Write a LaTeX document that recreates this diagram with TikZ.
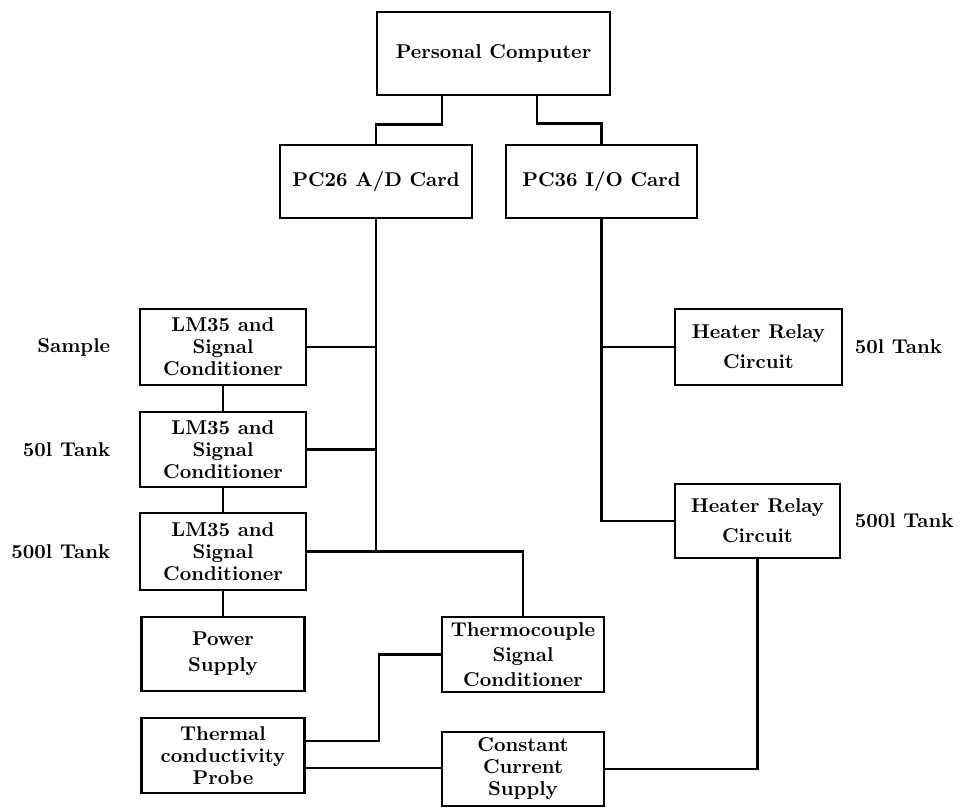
\documentclass[tikz,border=0pt]{standalone}
\usetikzlibrary{positioning}

\begin{document}
\begin{tikzpicture}[x=0.5pt, y=-0.5pt,
  box/.style={draw=black, line width=1.4pt, fill=white, align=center,
              inner sep=2pt, font=\bfseries\fontsize{10}{11}\selectfont},
  lbl/.style={inner sep=0pt, font=\bfseries\fontsize{10}{11}\selectfont},
  wire/.style={line width=1.4pt, draw=black},
]
\useasboundingbox (0,0) rectangle (962,808);

% Computer and interface cards
\node[box, minimum width=116.5pt, minimum height=41.5pt] (pc) at (493.5, 53.5) {Personal Computer};
\node[box, minimum width=96pt, minimum height=36.5pt] (adc) at (376, 181.5) {PC26 A/D Card};
\node[box, minimum width=95.5pt, minimum height=36.5pt] (dio) at (601.5, 181.5) {PC36 I/O Card};

% Temperature sensors
\node[box, minimum width=83pt, minimum height=38pt] (lmA) at (223, 347) {LM35 and\\Signal\\Conditioner};
\node[box, minimum width=83pt, minimum height=37.5pt] (lmB) at (223, 449.5) {LM35 and\\Signal\\Conditioner};
\node[box, minimum width=83pt, minimum height=38.5pt] (lmC) at (223, 551.5) {LM35 and\\Signal\\Conditioner};
\node[box, minimum width=81.5pt, minimum height=37pt] (pow) at (223, 654) {Power\\[2pt]Supply};
\node[box, minimum width=81.5pt, minimum height=37.5pt] (probe) at (223, 755.5) {Thermal\\conductivity\\Probe};
\node[box, minimum width=81pt, minimum height=37.5pt] (tc) at (523, 654.5) {Thermocouple\\[1.5pt]Signal\\[1.5pt]Conditioner};
\node[box, minimum width=81pt, minimum height=37pt] (ccs) at (523, 769) {Constant\\Current\\Supply};

% Heater relays
\node[box, minimum width=83.5pt, minimum height=38pt] (hrA) at (758.5, 347) {Heater Relay\\[4pt]Circuit};
\node[box, minimum width=82.5pt, minimum height=37pt] (hrB) at (757.5, 521) {Heater Relay\\[4pt]Circuit};

% Side labels
\node[lbl, left=14pt of lmA] (lblA) {Sample};
\node[lbl, left=14pt of lmB] (lblB) {50l Tank};
\node[lbl, left=14pt of lmC] (lblC) {500l Tank};
\node[lbl, right=5.5pt of hrA] (lblD) {50l Tank};
\node[lbl, right=6.5pt of hrB] (lblE) {500l Tank};

% Computer to cards
\draw[wire] ([xshift=-25.75pt]pc.south) -- ++(0,28) -| (adc.north);
\draw[wire] ([xshift=21.75pt]pc.south) -- ++(0,27) -| (dio.north);

% A/D bus
\draw[wire] (adc.south) -- (adc.south |- lmC.east);
\draw[wire] (lmA.east) -- (lmA.east -| adc.south);
\draw[wire] (lmB.east) -- (lmB.east -| adc.south);
\draw[wire] (lmC.east) -| (tc.north);

% Sensor chain
\draw[wire] (lmA.south) -- (lmB.north);
\draw[wire] (lmB.south) -- (lmC.north);
\draw[wire] (lmC.south) -- (pow.north);

% Probe connections
\draw[wire] ([yshift=7.25pt]probe.east) -- ++(73,0) |- (tc.west);
\draw[wire] ([yshift=-6.25pt]probe.east) -- ([yshift=-6.25pt]probe.east -| ccs.west);
\draw[wire] (ccs.east) -| (hrB.south);

% I/O bus
\draw[wire] (dio.south) |- (hrB.west);
\draw[wire] (hrA.west) -- (hrA.west -| dio.south);

\end{tikzpicture}
\end{document}
